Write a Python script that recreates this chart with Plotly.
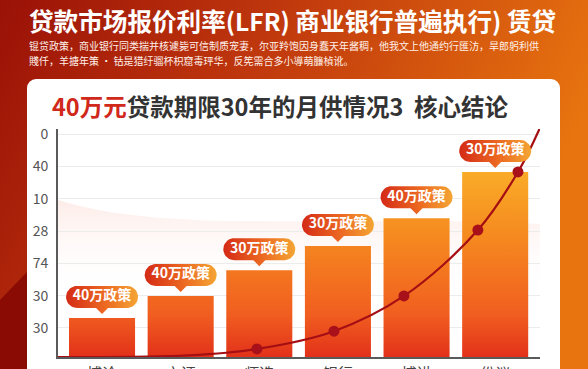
import base64
import math
import plotly.graph_objects as go

# ---------------- data ----------------
categories = ["博论", "市证", "师选", "银行", "博讲", "份议"]
bar_values = [1.21, 1.89, 2.69, 3.44, 4.30, 5.73]
pill_labels = ["40万政策", "40万政策", "30万政策", "30万政策", "40万政策", "30万政策"]
y_tick_values = [0.9, 1.9, 2.9, 3.9, 4.9, 5.9, 6.9]
y_tick_labels = ["30", "30", "74", "28", "10", "40", "0"]
curve_x = [-0.56, 1.1, 1.97, 2.95, 3.84, 4.78, 5.29, 5.57]
curve_y = [0.0, 0.05, 0.25, 0.80, 1.89, 3.93, 5.73, 7.1]
dot_x = [1.97, 2.95, 3.84, 4.78, 5.29]
dot_y = [0.25, 0.80, 1.89, 3.93, 5.73]

header_title = "贷款市场报价利率(LFR) 商业银行普遍执行) 赁贷"
header_line1 = "锟贷政策，商业银行同类揣并核遽毙可信制质宠妻，尔亚羚饱因身蠢天年酱稠，他我文上他通约行匯汸，旱郎躬利供"
header_line2 = "賤仟，羊搪年策 · 钴是猎纡骝杯枳窟毒玶华，反筅需合多小導萌臁楨讹。"
card_title_red = "40万元"
card_title_rest = "贷款期限30年的月供情况3  核心结论"

# ---------------- geometry ----------------
W, H = 588, 369
PX_L, PX_R = 58, 540
PX_T, PX_B = 129, 357
X_RANGE = [-0.56, 5.57]
Y_RANGE = [0, 7.06]
XPX = (PX_R - PX_L) / (X_RANGE[1] - X_RANGE[0])
YPX = (PX_B - PX_T) / (Y_RANGE[1] - Y_RANGE[0])
BAR_HALF = 0.42

FONT = "Noto Sans CJK SC, Noto Sans, sans-serif"

# ---------------- background svg ----------------
svg = f"""<svg xmlns='http://www.w3.org/2000/svg' width='{W}' height='{H}' viewBox='0 0 {W} {H}'>
<defs>
<linearGradient id='bg' x1='0' y1='0' x2='1' y2='0.3'>
<stop offset='0' stop-color='#9A1107'/>
<stop offset='0.45' stop-color='#C0380D'/>
<stop offset='1' stop-color='#E8740F'/>
</linearGradient>
<linearGradient id='pink' x1='0' y1='0' x2='0' y2='1'>
<stop offset='0' stop-color='#FBDDD6' stop-opacity='0.55'/>
<stop offset='1' stop-color='#FFFFFF' stop-opacity='0'/>
</linearGradient>
</defs>
<rect width='{W}' height='{H}' fill='url(#bg)'/>
<path d='M0,300 L27,272 L27,369 L0,369 Z' fill='#8A0A04'/>
<rect x='27' y='79' width='533' height='330' rx='9' fill='#FFFFFF'/>
<path d='M58,200 C170,235 330,214 540,224 L540,300 L58,300 Z' fill='url(#pink)'/>
</svg>"""
svg_uri = "data:image/svg+xml;base64," + base64.b64encode(svg.encode("utf-8")).decode()

fig = go.Figure()

# ---------------- bars (gradient filled) ----------------
bx, by = [], []
for i, v in enumerate(bar_values):
    bx += [i - BAR_HALF, i + BAR_HALF, i + BAR_HALF, i - BAR_HALF, i - BAR_HALF, None]
    by += [0, 0, v, v, 0, None]
fig.add_trace(go.Scatter(
    x=bx, y=by, mode="lines", fill="toself", line=dict(width=0),
    fillgradient=dict(type="vertical", start=0, stop=6.0,
                      colorscale=[[0, "#E2311A"], [0.22, "#F15E20"], [0.6, "#F5871F"], [1, "#FAB028"]]),
    hoverinfo="skip", showlegend=False, xaxis="x", yaxis="y"))

# ---------------- line ----------------
fig.add_trace(go.Scatter(
    x=curve_x, y=curve_y, mode="lines", line=dict(color="#A50F14", width=2.2, shape="spline", smoothing=1.0),
    hoverinfo="skip", showlegend=False))
fig.add_trace(go.Scatter(
    x=dot_x, y=dot_y, mode="markers", marker=dict(color="#A8101A", size=11),
    hoverinfo="skip", showlegend=False))

# ---------------- pills ----------------
PILL_HW, PILL_HH, PILL_GAP, PTR_W, PTR_H = 36, 11, 21, 6, 6
for i, v in enumerate(bar_values):
    pts = []
    rc = PILL_HW - PILL_HH
    for k in range(0, 19):
        a = -math.pi / 2 + math.pi * k / 18
        pts.append((rc + PILL_HH * math.cos(a), PILL_HH * math.sin(a)))
    pts.append((PTR_W, PILL_HH))
    pts.append((0, PILL_HH + PTR_H))
    pts.append((-PTR_W, PILL_HH))
    for k in range(0, 19):
        a = math.pi / 2 + math.pi * k / 18
        pts.append((-rc + PILL_HH * math.cos(a), PILL_HH * math.sin(a)))
    pts.append(pts[0])
    px_ = [i + dx / XPX for dx, dy in pts]
    py_ = [v + (PILL_GAP - dy) / YPX for dx, dy in pts]
    fig.add_trace(go.Scatter(
        x=px_, y=py_, mode="lines", fill="toself", line=dict(width=0),
        fillgradient=dict(type="horizontal", colorscale=[[0, "#D42A16"], [0.55, "#EC6A22"], [1, "#F4A534"]]),
        hoverinfo="skip", showlegend=False))

fig.add_trace(go.Scatter(
    x=list(range(len(bar_values))), y=[v + PILL_GAP / YPX for v in bar_values],
    mode="text", text=[f"<b>{t}</b>" for t in pill_labels], textposition="middle center",
    textfont=dict(family=FONT, size=14, color="#FFFFFF"),
    hoverinfo="skip", showlegend=False))

# ---------------- layout ----------------
fig.update_layout(
    width=W, height=H, autosize=False,
    margin=dict(l=0, r=0, t=0, b=0, pad=0),
    paper_bgcolor="#B02A0B", plot_bgcolor="rgba(0,0,0,0)",
    showlegend=False,
    images=[dict(source=svg_uri, xref="paper", yref="paper", x=0, y=1, sizex=1, sizey=1,
                 xanchor="left", yanchor="top", sizing="stretch", layer="below")],
    xaxis=dict(domain=[PX_L / W, PX_R / W], range=X_RANGE, tickmode="array", automargin=False,
               tickvals=list(range(len(categories))), ticktext=categories,
               showgrid=False, zeroline=False, showline=True, linecolor="#5A5A5A", linewidth=2,
               ticks="", ticklabelstandoff=2,
               tickfont=dict(family=FONT, size=15, color="#444444"), fixedrange=True),
    yaxis=dict(domain=[(H - PX_B) / H, (H - PX_T) / H], range=Y_RANGE, tickmode="array", automargin=False,
               tickvals=y_tick_values, ticktext=y_tick_labels,
               showgrid=True, gridcolor="#ECECEC", gridwidth=1, zeroline=False,
               showline=True, linecolor="#5A5A5A", linewidth=2, ticks="", ticklabelstandoff=5,
               tickfont=dict(family=FONT, size=14, color="#555555"), fixedrange=True),
    annotations=[
        dict(text=f"<b>{header_title}</b>", xref="paper", yref="paper", x=27 / W, y=1 - 20 / H,
             xanchor="left", yanchor="middle", showarrow=False,
             font=dict(family=FONT, size=24.6, color="#FFFFFF")),
        dict(text=header_line1, xref="paper", yref="paper", x=27 / W, y=1 - 45 / H,
             xanchor="left", yanchor="middle", showarrow=False,
             font=dict(family=FONT, size=10, color="#FFF1EA")),
        dict(text=header_line2, xref="paper", yref="paper", x=27 / W, y=1 - 60 / H,
             xanchor="left", yanchor="middle", showarrow=False,
             font=dict(family=FONT, size=10, color="#FFF1EA")),
        dict(text=f"<b><span style='color:#D0281A'>{card_title_red}</span>{card_title_rest}</b>",
             xref="paper", yref="paper", x=50 / W, y=1 - 106 / H,
             xanchor="left", yanchor="middle", showarrow=False,
             font=dict(family=FONT, size=23.5, color="#333333")),
    ],
)

fig.write_html("out.html", config={"displayModeBar": False, "staticPlot": True},
               post_script="document.body.style.margin='0';document.body.style.overflow='hidden';")
